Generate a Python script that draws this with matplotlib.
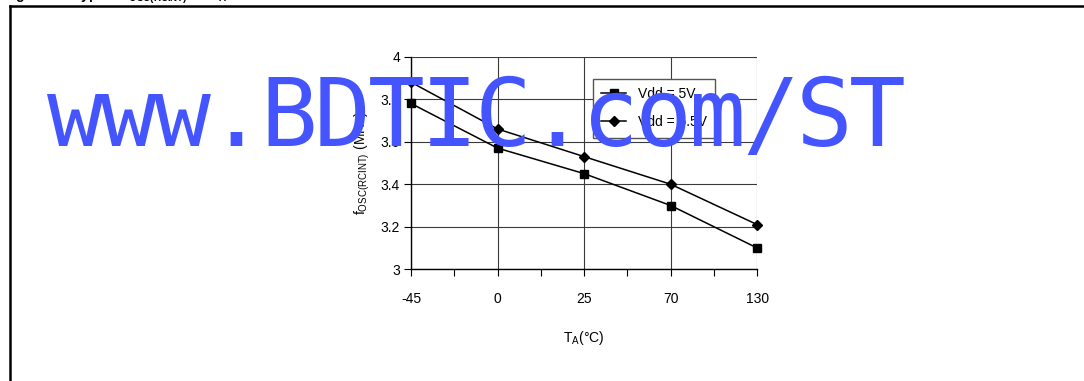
import matplotlib
matplotlib.use("Agg")
import numpy as np
from matplotlib import pyplot as plt
from matplotlib.lines import Line2D
from matplotlib.ticker import FuncFormatter

# data
temps = ["-45", "0", "25", "70", "130"]
f_vdd_5v = [3.78, 3.57, 3.45, 3.30, 3.10]
f_vdd_55v = [3.88, 3.66, 3.53, 3.40, 3.21]
series_labels = ["Vdd = 5V", "Vdd = 5.5V"]
y_ticks = [3, 3.2, 3.4, 3.6, 3.8, 4]
caption = r"Figure 21. Typical f$_{\mathbf{OSC(RCINT)}}$ vs T$_{\mathbf{A}}$"
watermark = "www.BDTIC.com/ST"

plt.rcParams["font.family"] = ["Liberation Sans", "DejaVu Sans"]
plt.rcParams["mathtext.fontset"] = "custom"
plt.rcParams["mathtext.rm"] = "Liberation Sans"
plt.rcParams["mathtext.it"] = "Liberation Sans:italic"
plt.rcParams["mathtext.bf"] = "Liberation Sans:bold"

W, H = 1084, 381
fig = plt.figure(figsize=(W / 100, H / 100), dpi=100)

# frame around the figure (only left and top edges are inside the crop)
fig.add_artist(Line2D([10 / W, 10 / W], [-0.1, 1 - 6 / H], transform=fig.transFigure,
                      color="black", lw=1.8))
fig.add_artist(Line2D([10 / W, 1.1], [1 - 6 / H, 1 - 6 / H], transform=fig.transFigure,
                      color="black", lw=1.8))
fig.text(3 / W, 1.0, caption, fontsize=10, fontweight="bold", va="baseline")

ax = fig.add_axes([411 / W, 1 - 269.3 / H, 346.3 / W, 212.6 / H])
x = np.arange(len(temps))
ax.plot(x, f_vdd_5v, color="black", lw=1.1, marker="s", ms=6,
        label=series_labels[0], clip_on=False, zorder=3)
ax.plot(x, f_vdd_55v, color="black", lw=1.1, marker="D", ms=5,
        label=series_labels[1], clip_on=False, zorder=3)

ax.set_xlim(0, len(temps) - 1)
ax.set_ylim(3, 4)
ax.set_xticks(x)
ax.set_xticklabels(temps)
ax.set_xticks(x[:-1] + 0.5, minor=True)
ax.set_yticks(y_ticks)
ax.yaxis.set_major_formatter(FuncFormatter(lambda v, p: f"{v:g}"))

ax.grid(True, which="major", color="#3a3a3a", lw=0.8)
ax.set_axisbelow(True)
for side in ["top", "right"]:
    ax.spines[side].set_visible(False)
for side in ["left", "bottom"]:
    ax.spines[side].set_color("black")
    ax.spines[side].set_linewidth(1.0)

ax.tick_params(axis="both", which="both", direction="out", length=5, width=0.8,
               colors="black", labelsize=10)
ax.tick_params(axis="x", which="major", pad=11)
ax.tick_params(axis="y", which="major", pad=3)

ax.set_ylabel(r"f$_{\mathrm{OSC(RCINT)}}$ (MHz)", fontsize=10)
ax.yaxis.set_label_coords(-0.113, 0.5)
ax.set_xlabel(r"T$_{\mathrm{A}}$(°C)", fontsize=10)
ax.xaxis.set_label_coords(0.5, -0.28)

leg = ax.legend(loc="upper left", bbox_to_anchor=(592.7 / W, 1 - 79 / H),
                bbox_transform=fig.transFigure, borderaxespad=0, frameon=True,
                fancybox=False, edgecolor="#555555", framealpha=1, fontsize=10,
                handlelength=1.8, handletextpad=0.85, labelspacing=1.0, borderpad=0.6)
leg.get_frame().set_linewidth(1.0)

# overlay watermark, one character per fixed-width cell
for i, ch in enumerate(watermark):
    fig.text((75 + 53.5 * i) / W, 1 - 146 / H, ch, fontsize=68,
             family="DejaVu Sans Mono", color="#4455ff", ha="center",
             va="baseline", zorder=10)

fig.savefig("out.png", dpi=100)
